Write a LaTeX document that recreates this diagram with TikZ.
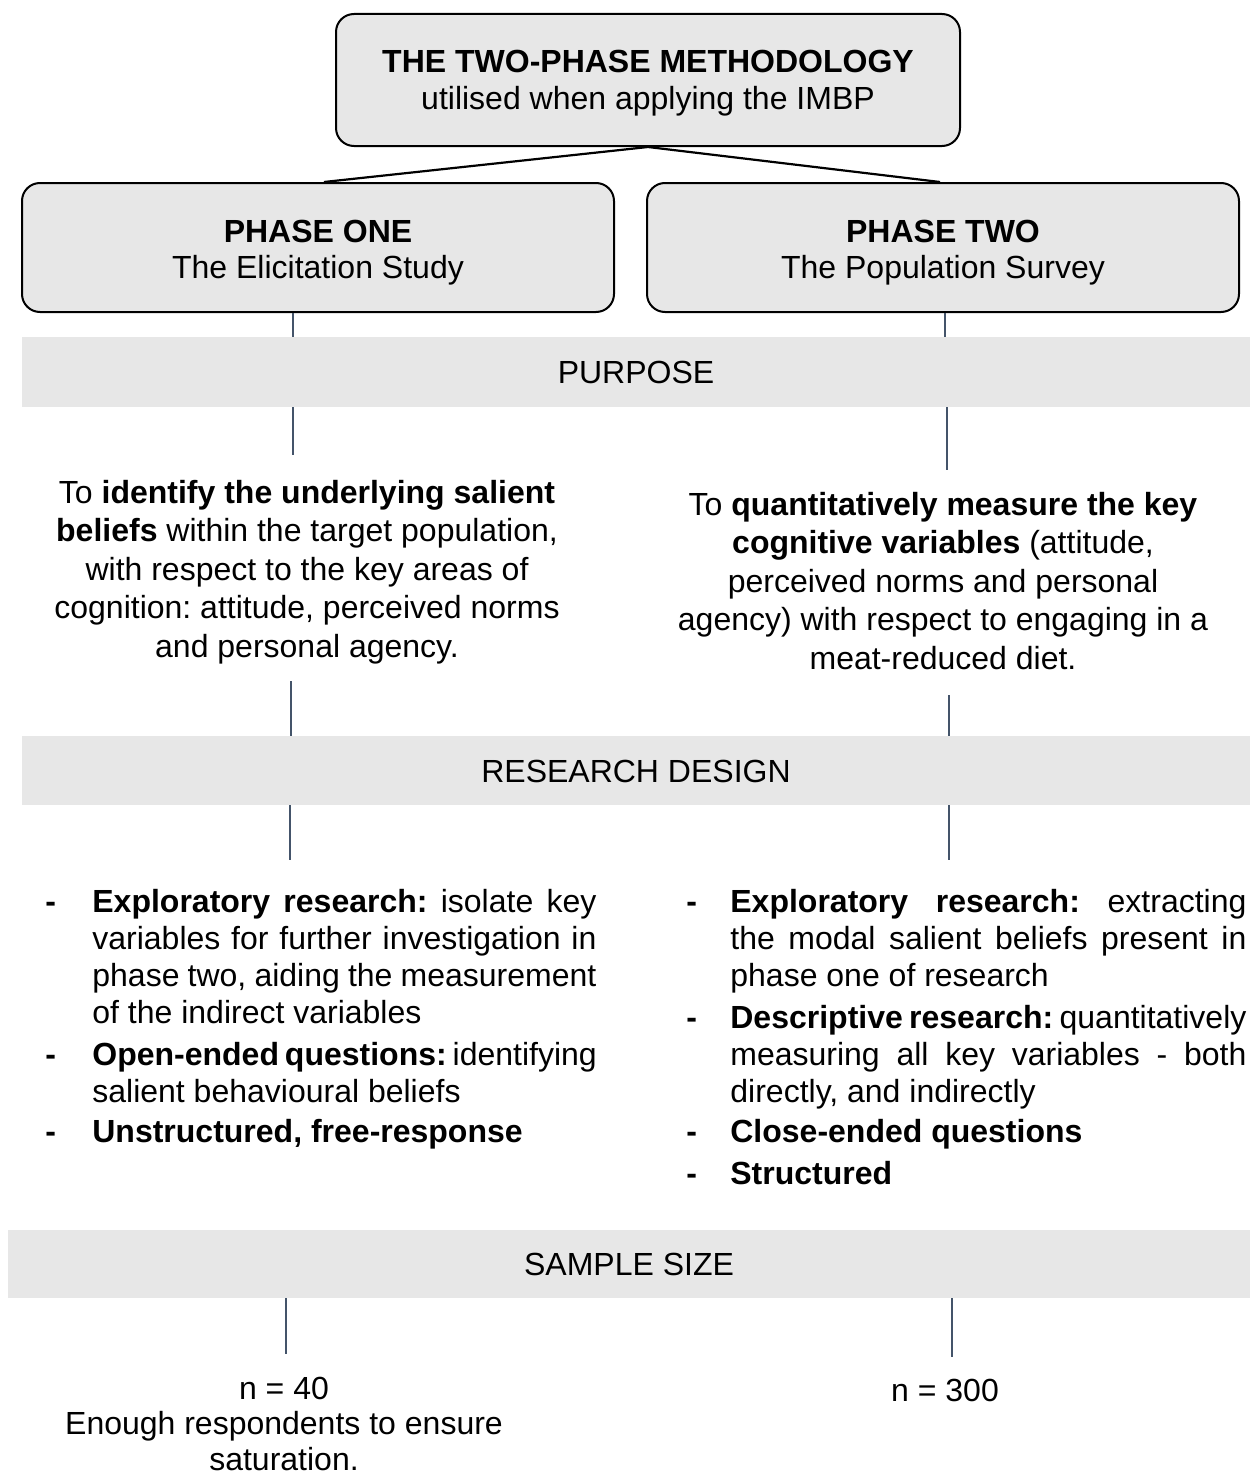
\documentclass[tikz,border=0pt]{standalone}
\usepackage{fontspec}
\setmainfont{Liberation Sans}
\frenchspacing
\definecolor{bandgray}{HTML}{E7E7E7}
\definecolor{connblue}{HTML}{44546A}
\begin{document}
\begin{tikzpicture}[x=0.5pt,y=-0.5pt,
  box/.style={draw=black, line width=1pt, fill=bandgray, rounded corners=9pt, inner sep=0pt},
  band/.style={fill=bandgray, inner sep=0pt, text height=11.5pt, text depth=0pt, font=\fontsize{16}{18.5}\selectfont},
  txt/.style={inner sep=0pt, anchor=base, font=\fontsize{16}{19.3}\selectfont\frenchspacing},
  bul/.style={inner sep=0pt, anchor=base west, font=\fontsize{16}{18.5}\selectfont\frenchspacing},
  conn/.style={draw=connblue, line width=0.75pt},
  tree/.style={draw=black, line width=1.1pt}]
\useasboundingbox (0,0) rectangle (1250,1477);

% top box
\node[box, minimum width=312pt, minimum height=66pt, text height=13pt, text depth=20pt,
      font=\fontsize{16}{18.5}\selectfont] (top) at (648,80)
  {\begin{tabular}[t]{@{}c@{}}\textbf{THE TWO-PHASE METHODOLOGY}\\ utilised when applying the IMBP\end{tabular}};

% phase boxes
\node[box, minimum width=296pt, minimum height=64.5pt, text height=13pt, text depth=18.5pt,
      font=\fontsize{16}{18}\selectfont] (p1) at (318,247.5)
  {\begin{tabular}[t]{@{}c@{}}\textbf{PHASE ONE}\\ The Elicitation Study\end{tabular}};
\node[box, minimum width=296pt, minimum height=64.5pt, text height=13pt, text depth=18.5pt,
      font=\fontsize{16}{18}\selectfont] (p2) at (943,247.5)
  {\begin{tabular}[t]{@{}c@{}}\textbf{PHASE TWO}\\ The Population Survey\end{tabular}};

% bands
\node[band, minimum width=614pt, minimum height=35pt] (purpose) at (636,372) {PURPOSE};
\node[band, minimum width=614pt, minimum height=34.5pt] (design) at (636,770.5) {RESEARCH DESIGN};
\node[band, minimum width=621pt, minimum height=34pt] (sample) at (629,1264) {SAMPLE SIZE};

% purpose texts
\node[txt] (purpL) at (307,503)
  {\begin{tabular}[t]{@{}c@{}}To \textbf{identify the underlying salient}\\
   \textbf{beliefs} within the target population,\\
   with respect to the key areas of\\
   cognition: attitude, perceived norms\\
   and personal agency.\end{tabular}};
\node[txt] (purpR) at (943,515)
  {\begin{tabular}[t]{@{}c@{}}To \textbf{quantitatively measure the key}\\
   \textbf{cognitive variables} (attitude,\\
   perceived norms and personal\\
   agency) with respect to engaging in a\\
   meat-reduced diet.\end{tabular}};

% research design bullets
\node[bul] (desL) at (45,912)
  {\begin{tabular}[t]{@{}l@{}l@{}}
   \makebox[23.5pt][l]{\textbf{-}} & \makebox[252pt][s]{\textbf{Exploratory research:} isolate key}\\
   & \makebox[252pt][s]{variables for further investigation in}\\
   & \makebox[252pt][s]{phase two, aiding the measurement}\\
   & of the indirect variables\\[2.5pt]
   \textbf{-} & \makebox[252pt][s]{\textbf{Open-ended questions:} identifying}\\
   & salient behavioural beliefs\\[1.5pt]
   \textbf{-} & \textbf{Unstructured, free-response}
   \end{tabular}};
\node[bul] (desR) at (686,912)
  {\begin{tabular}[t]{@{}l@{}l@{}}
   \makebox[22pt][l]{\textbf{-}} & \makebox[258pt][s]{\textbf{Exploratory research:} extracting}\\
   & \makebox[258pt][s]{the modal salient beliefs present in}\\
   & phase one of research\\[2.5pt]
   \textbf{-} & \makebox[258pt][s]{\textbf{Descriptive research:} quantitatively}\\
   & \makebox[258pt][s]{measuring all key variables - both}\\
   & directly, and indirectly\\[1.5pt]
   \textbf{-} & \textbf{Close-ended questions}\\[2.5pt]
   \textbf{-} & \textbf{Structured}
   \end{tabular}};

% sample size texts
\node[txt, font=\fontsize{16}{17.8}\selectfont] (nL) at (284,1399)
  {\begin{tabular}[t]{@{}c@{}}n = 40\\ Enough respondents to ensure\\ saturation.\end{tabular}};
\node[txt] (nR) at (945,1401) {n = 300};

% tree connectors
\draw[tree] (top.south) -- ([xshift=3pt]p1.north);
\draw[tree] (top.south) -- ([xshift=-1.5pt]p2.north);

% vertical connectors
\coordinate (x1) at (293,0);
\coordinate (x2) at (945,0);
\coordinate (c1) at (293,455);
\coordinate (c2) at (947,470);
\coordinate (c3) at (291,681);
\coordinate (c4) at (949,695);
\coordinate (c5) at (290,860);
\coordinate (c6) at (949,860);
\coordinate (c7) at (286,1354);
\coordinate (c8) at (952,1357);
\draw[conn] (p1.south -| x1) -- (purpose.north -| x1);
\draw[conn] (p2.south -| x2) -- (purpose.north -| x2);
\draw[conn] (purpose.south -| c1) -- (c1);
\draw[conn] (purpose.south -| c2) -- (c2);
\draw[conn] (c3) -- (design.north -| c3);
\draw[conn] (c4) -- (design.north -| c4);
\draw[conn] (design.south -| c5) -- (c5);
\draw[conn] (design.south -| c6) -- (c6);
\draw[conn] (sample.south -| c7) -- (c7);
\draw[conn] (sample.south -| c8) -- (c8);
\end{tikzpicture}
\end{document}
